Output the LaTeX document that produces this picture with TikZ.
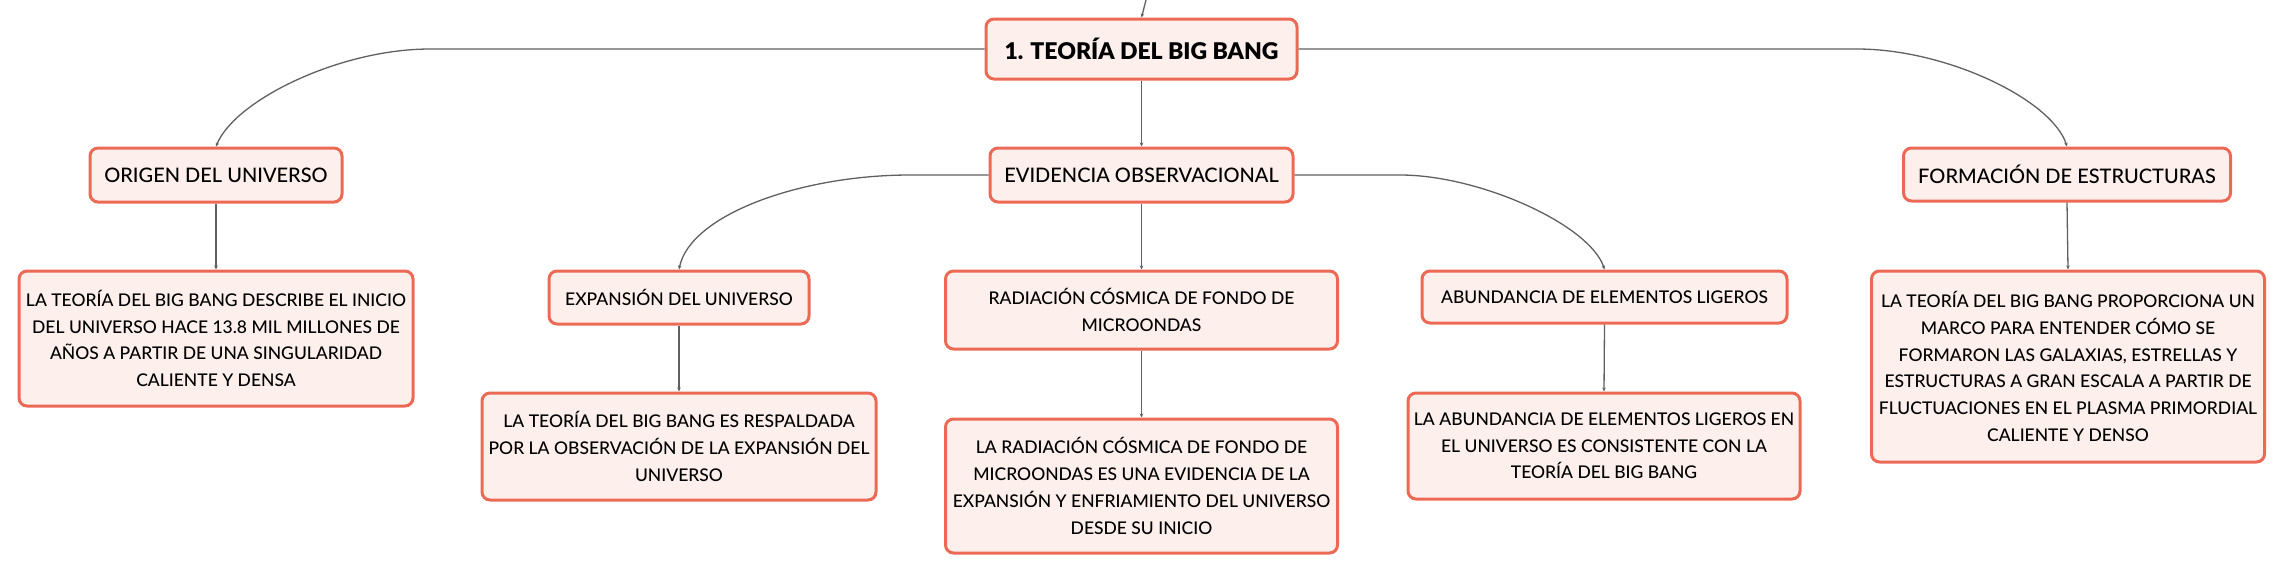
\documentclass[tikz,border=0pt]{standalone}
\usepackage{fontspec}
\setmainfont{Lato Medium}[BoldFont=Lato Black]
\usepackage{tikz}
\usetikzlibrary{arrows.meta}
\usepackage{xcolor}
\definecolor{boxline}{HTML}{EC6A55}
\definecolor{boxfill}{HTML}{FDEFEB}
\definecolor{wire}{HTML}{606060}

\begin{document}
\begin{tikzpicture}[x=1pt,y=-1pt,
    box/.style={draw=boxline,fill=boxfill,line width=3pt,rounded corners=8pt,
        inner sep=0pt,align=center,font=\fontsize{17.5}{26.7}\selectfont},
    topic/.style={box,font=\fontsize{20}{26.7}\selectfont},
    link/.style={draw=wire,line width=1.3pt,-{Stealth[length=4pt,width=3.5pt]}}]
                \useasboundingbox (0,0) rectangle (2284,574);
                % main title
                \node[box,font=\bfseries\fontsize{23}{28}\selectfont,
                    minimum width=311,minimum height=60] (root) at (1141.5,49)
                    {1. TEORÍA DEL BIG BANG};
                % first level
                \node[topic,minimum width=252,minimum height=54] (origen) at (216,175)
                    {ORIGEN DEL UNIVERSO};
                \node[topic,minimum width=303,minimum height=54] (evidencia) at (1141.5,175)
                    {EVIDENCIA OBSERVACIONAL};
                \node[topic,minimum width=327,minimum height=53] (formacion) at (2067,174.5)
                    {FORMACIÓN DE ESTRUCTURAS};
                % second level
                \node[box,minimum width=260,minimum height=53] (expansion) at (679,297.5)
                    {EXPANSIÓN DEL UNIVERSO};
                \node[box,minimum width=392,minimum height=78] (radiacion) at (1141.5,310)
                    {RADIACIÓN CÓSMICA DE FONDO DE\\MICROONDAS};
                \node[box,minimum width=365,minimum height=52] (abundancia) at (1604.5,297)
                    {ABUNDANCIA DE ELEMENTOS LIGEROS};
                % descriptions
                \node[box,minimum width=394,minimum height=135] (origenTxt) at (216,338.5)
                    {LA TEORÍA DEL BIG BANG DESCRIBE EL INICIO\\DEL UNIVERSO HACE 13.8 MIL MILLONES DE\\
                    AÑOS A PARTIR DE UNA SINGULARIDAD\\CALIENTE Y DENSA};
                \node[box,minimum width=394,minimum height=107] (expansionTxt) at (679,446.5)
                    {LA TEORÍA DEL BIG BANG ES RESPALDADA\\POR LA OBSERVACIÓN DE LA EXPANSIÓN DEL\\UNIVERSO};
                \node[box,minimum width=392,minimum height=134] (radiacionTxt) at (1141.5,486)
                    {LA RADIACIÓN CÓSMICA DE FONDO DE\\MICROONDAS ES UNA EVIDENCIA DE LA\\
                    EXPANSIÓN Y ENFRIAMIENTO DEL UNIVERSO\\DESDE SU INICIO};
                \node[box,minimum width=392,minimum height=106] (abundanciaTxt) at (1604,446)
                    {LA ABUNDANCIA DE ELEMENTOS LIGEROS EN\\EL UNIVERSO ES CONSISTENTE CON LA\\TEORÍA DEL BIG BANG};
                \node[box,minimum width=393,minimum height=191] (formacionTxt) at (2068,366.5)
                    {LA TEORÍA DEL BIG BANG PROPORCIONA UN\\MARCO PARA ENTENDER CÓMO SE\\
                    FORMARON LAS GALAXIAS, ESTRELLAS Y\\ESTRUCTURAS A GRAN ESCALA A PARTIR DE\\
                    FLUCTUACIONES EN EL PLASMA PRIMORDIAL\\CALIENTE Y DENSO};
                % connectors
                \coordinate (parent) at (1146,0);
                \draw[link] (parent) .. controls (1144,8) .. (root.north);
                \draw[link] (root.west) -- (430,49) .. controls (340,49) and (235,100) .. (origen.north);
                \draw[link] (root.east) -- (1857,49) .. controls (1947,49) and (2052,100) .. (formacion.north);
                \draw[link] (root.south) -- (evidencia.north);
                \draw[link] (evidencia.west) -- (910,175) .. controls (800,175) and (690,215) .. (expansion.north);
                \draw[link] (evidencia.east) -- (1400,175) .. controls (1480,175) and (1590,225) .. (abundancia.north);
                \draw[link] (evidencia.south) -- (radiacion.north);
                \draw[link] (origen.south) -- (origenTxt.north);
                \draw[link] (expansion.south) -- (expansionTxt.north);
                \draw[link] (radiacion.south) -- (radiacionTxt.north);
                \draw[link] (abundancia.south) -- (abundanciaTxt.north);
                \draw[link] (formacion.south) -- (formacionTxt.north);
            \end{tikzpicture}
\end{document}
